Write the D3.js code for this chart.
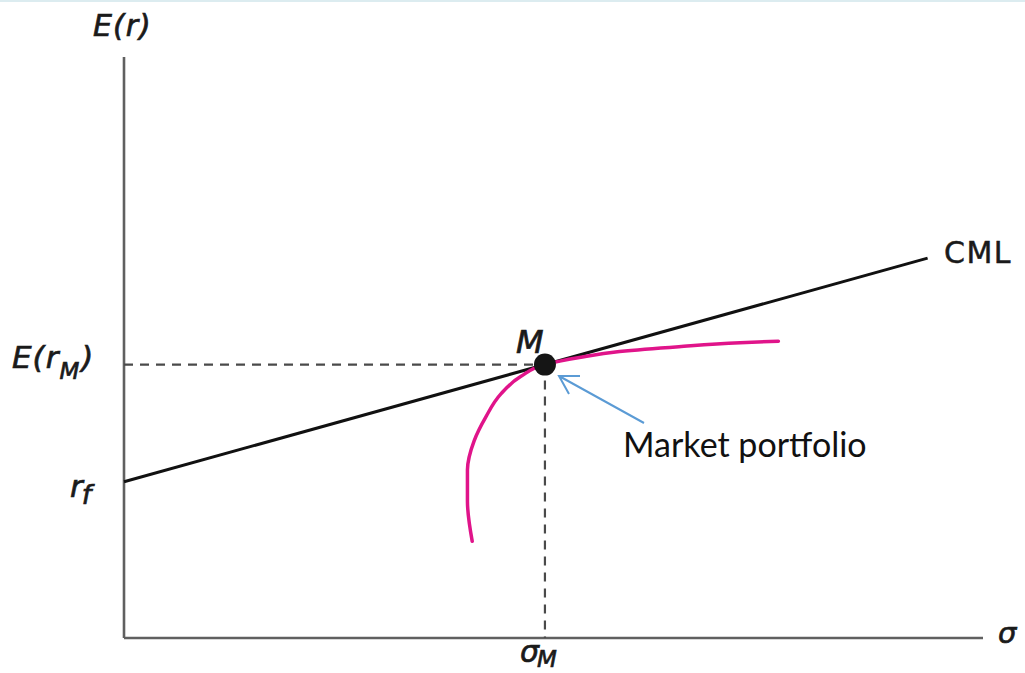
<!DOCTYPE html>
<html>
<head>
<meta charset="utf-8">
<script src="https://cdn.jsdelivr.net/npm/d3@7"></script>
<style>
  html, body { margin: 0; padding: 0; background: #fff; }
  svg { display: block; }
  .lbl { font-family: "DejaVu Sans", sans-serif; font-style: oblique; fill: #1a1a1a; stroke: #1a1a1a; stroke-width: 0.7px; }
  .plain { font-family: "DejaVu Sans", sans-serif; fill: #1a1a1a; stroke: #1a1a1a; stroke-width: 0.5px; }
  .note { font-family: "Lato", sans-serif; fill: #111; }
</style>
</head>
<body>
<script>
// ---- data (model units: sigma on x, expected return on y) ----
const riskFree = 8;
const sigmaM = 22;
const returnM = 14;
const cmlEndSigma = 42;
const frontierSigma  = [18.2, 17.95, 17.95, 18.3, 18.9, 19.7, 20.75, 22.0, 23.8, 25.9, 29.0, 32.2, 34.2];
const frontierReturn = [4.95, 7.0, 8.6, 10.1, 11.3, 12.5, 13.4, 14.0, 14.36, 14.67, 14.92, 15.12, 15.2];
const axisLabels = { y: "E(r)", x: "σ", cml: "CML", point: "M", note: "Market portfolio" };

const W = 1025, H = 673;
const svg = d3.select("body").append("svg").attr("width", W).attr("height", H);

const x = d3.scaleLinear().domain([0, 45]).range([124, 985]);
const y = d3.scaleLinear().domain([0, 29.6]).range([638, 60]);

// faint top border line
svg.append("line").attr("x1", 0).attr("x2", W).attr("y1", 1).attr("y2", 1)
  .attr("stroke", "#dcecf0").attr("stroke-width", 2);

// axes
svg.append("line").attr("x1", x(0)).attr("x2", x(0)).attr("y1", 57).attr("y2", y(0))
  .attr("stroke", "#606060").attr("stroke-width", 2.6);
svg.append("line").attr("x1", x(0)).attr("x2", 983).attr("y1", y(0)).attr("y2", y(0))
  .attr("stroke", "#606060").attr("stroke-width", 2.6);

// dashed guides
svg.append("line").attr("x1", x(0)).attr("x2", x(sigmaM)).attr("y1", y(returnM)).attr("y2", y(returnM))
  .attr("stroke", "#4a4a4a").attr("stroke-width", 2.2).attr("stroke-dasharray", "9,7");
svg.append("line").attr("x1", x(sigmaM)).attr("x2", x(sigmaM)).attr("y1", y(returnM)).attr("y2", y(0))
  .attr("stroke", "#4a4a4a").attr("stroke-width", 2.2).attr("stroke-dasharray", "9,7");

// CML
const slope = (returnM - riskFree) / sigmaM;
svg.append("line")
  .attr("x1", x(0)).attr("y1", y(riskFree))
  .attr("x2", x(cmlEndSigma)).attr("y2", y(riskFree + slope * cmlEndSigma))
  .attr("stroke", "#111").attr("stroke-width", 3);

// efficient frontier
const pts = frontierSigma.map((s, i) => [s, frontierReturn[i]]);
svg.append("path")
  .attr("d", d3.line().x(d => x(d[0])).y(d => y(d[1])).curve(d3.curveMonotoneY)(pts))
  .attr("fill", "none").attr("stroke", "#e0148a").attr("stroke-width", 3.5).attr("stroke-linecap", "round");

// market portfolio point
svg.append("circle").attr("cx", x(sigmaM)).attr("cy", y(returnM)).attr("r", 11).attr("fill", "#151515");

// arrow
const ax0 = 644, ay0 = 423, ax1 = 559, ay1 = 376;
svg.append("path")
  .attr("d", `M${ax0},${ay0}L${ax1},${ay1}M580,376L${ax1},${ay1}L569,394`)
  .attr("fill", "none").attr("stroke", "#5b9bd5").attr("stroke-width", 2);

// labels
svg.append("text").attr("class", "lbl").attr("x", 93).attr("y", 36).attr("font-size", 30)
  .attr("letter-spacing", 1).text(axisLabels.y);

const erm = svg.append("text").attr("class", "lbl").attr("x", 12).attr("y", 368).attr("font-size", 31)
  .attr("letter-spacing", 1);
erm.append("tspan").text("E(r");
erm.append("tspan").attr("font-size", 23).attr("dy", 11).text("M");
erm.append("tspan").attr("dy", -11).attr("dx", 1).text(")");

const rf = svg.append("text").attr("class", "lbl").attr("x", 70).attr("y", 497).attr("font-size", 31);
rf.append("tspan").text("r");
rf.append("tspan").attr("font-size", 27).attr("dy", 7).attr("dx", -1).text("f");

const sm = svg.append("text").attr("class", "lbl").attr("x", 520).attr("y", 662).attr("font-size", 30);
sm.append("tspan").text("σ");
sm.append("tspan").attr("font-size", 23).attr("dy", 5).attr("dx", -2).text("M");

svg.append("text").attr("class", "lbl").attr("x", 998).attr("y", 643).attr("font-size", 29).text(axisLabels.x);
svg.append("text").attr("class", "lbl").attr("x", 516).attr("y", 353).attr("font-size", 32).text(axisLabels.point);
svg.append("text").attr("class", "plain").attr("x", 944).attr("y", 263).attr("font-size", 30)
  .attr("letter-spacing", 1.5).text(axisLabels.cml);
svg.append("text").attr("class", "note").attr("x", 623).attr("y", 457).attr("font-size", 34).text(axisLabels.note);
</script>
</body>
</html>
